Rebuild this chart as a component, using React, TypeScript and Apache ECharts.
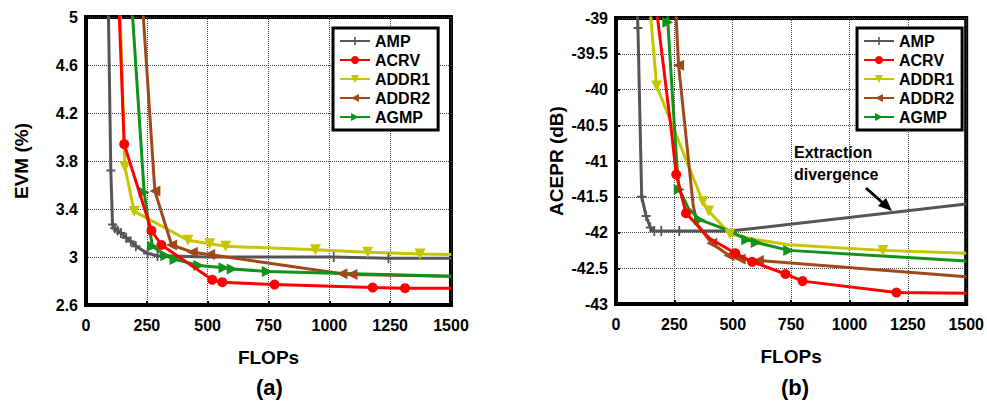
import React, { useEffect, useRef } from "react";
import * as echarts from "echarts";

// [FLOPs, value, hasMarker]
const SERIES_NAMES = ["AMP", "ACRV", "ADDR1", "ADDR2", "AGMP"];

const evmAMP = [[92, 5.05, 0], [102, 3.72, 1], [109, 3.27, 1], [118, 3.24, 1], [130, 3.22, 1], [143, 3.2, 1], [165, 3.16, 1], [184, 3.13, 1], [205, 3.09, 1], [253, 3.03, 1], [294, 3.01, 1], [500, 3.0, 0], [1018, 3.0, 1], [1243, 2.99, 1], [1500, 2.99, 0]];
const evmACRV = [[136, 5.05, 0], [157, 3.94, 1], [269, 3.22, 1], [310, 3.1, 1], [519, 2.81, 1], [560, 2.79, 1], [775, 2.77, 1], [1178, 2.745, 1], [1311, 2.74, 1], [1500, 2.74, 0]];
const evmADDR1 = [[140, 5.05, 0], [160, 3.75, 1], [198, 3.38, 1], [419, 3.14, 1], [508, 3.11, 1], [574, 3.09, 1], [943, 3.06, 1], [1158, 3.04, 1], [1373, 3.025, 1], [1500, 3.02, 0]];
const evmADDR2 = [[234, 5.05, 0], [283, 3.55, 1], [352, 3.1, 1], [437, 3.04, 1], [508, 3.02, 1], [1052, 2.86, 1], [1093, 2.855, 1], [1500, 2.84, 0]];
const evmAGMP = [[190, 5.05, 0], [239, 3.54, 1], [262, 3.22, 0], [273, 3.09, 1], [328, 3.01, 1], [366, 2.98, 1], [464, 2.93, 1], [567, 2.91, 1], [601, 2.9, 1], [745, 2.88, 1], [1500, 2.84, 0]];

const acpAMP = [[92, -38.95, 0], [94, -39.14, 1], [110, -41.5, 1], [129, -41.77, 1], [147, -41.93, 1], [164, -41.98, 1], [194, -41.98, 1], [271, -41.98, 1], [490, -41.98, 0], [1500, -41.6, 0]];
const acpACRV = [[176, -38.95, 0], [238, -40.6, 0], [258, -41.19, 1], [300, -41.73, 1], [400, -42.08, 0], [511, -42.29, 1], [583, -42.41, 1], [726, -42.58, 1], [799, -42.68, 1], [1201, -42.84, 1], [1500, -42.85, 0]];
const acpADDR1 = [[148, -38.95, 0], [174, -39.95, 1], [372, -41.57, 1], [397, -41.7, 1], [488, -42.02, 1], [600, -42.1, 0], [740, -42.17, 0], [1143, -42.25, 1], [1500, -42.29, 0]];
const acpADDR2 = [[257, -38.95, 0], [268, -39.66, 1], [331, -41.63, 0], [350, -41.9, 0], [410, -42.15, 1], [484, -42.32, 1], [532, -42.37, 1], [610, -42.39, 1], [1500, -42.62, 0]];
const acpAGMP = [[221, -38.95, 0], [222, -39.06, 1], [261, -41.07, 0], [271, -41.4, 1], [310, -41.66, 0], [358, -41.82, 1], [490, -41.98, 0], [560, -42.1, 1], [601, -42.14, 1], [740, -42.25, 1], [1500, -42.4, 0]];

const evmTicks = [2.6, 3, 3.4, 3.8, 4.2, 4.6, 5];
const acpTicks = [-43, -42.5, -42, -41.5, -41, -40.5, -40, -39.5, -39];
const flopTicks = [0, 250, 500, 750, 1000, 1250, 1500];

const COLORS = ["#555555", "#ff0000", "#c6c600", "#a0481a", "#12921a"];
const PLUS = "path://M4,0 L6,0 L6,10 L4,10 Z M0,4 L10,4 L10,6 L0,6 Z";
const SYMBOLS: any[] = [
  { symbol: PLUS, symbolSize: [9, 10], symbolRotate: 0 },
  { symbol: "circle", symbolSize: 10, symbolRotate: 0 },
  { symbol: "triangle", symbolSize: 11, symbolRotate: 180 },
  { symbol: "triangle", symbolSize: 11, symbolRotate: 90 },
  { symbol: "triangle", symbolSize: 11, symbolRotate: -90 },
];

const FONT = "'Liberation Sans', Arial, Helvetica, sans-serif";

function toData(arr: number[][]) {
  return arr.map(([x, y, m]) => (m ? { value: [x, y] } : { value: [x, y], symbol: "none" }));
}

function pickTick(list: number[]) {
  return (v: number) => {
    const t = list.find((k) => Math.abs(k - v) < 1e-6);
    return t === undefined ? "" : String(t);
  };
}

export default function App() {
  const ref = useRef<HTMLDivElement>(null);
  useEffect(() => {
    if (!ref.current) return;
    const chart = echarts.init(ref.current, null, { renderer: "svg" });
    const evmSets = [evmAMP, evmACRV, evmADDR1, evmADDR2, evmAGMP];
    const acpSets = [acpAMP, acpACRV, acpADDR1, acpADDR2, acpAGMP];

    const mkSeries = (sets: number[][][], idx: number) =>
      sets.map((s, i) => ({
        type: "line",
        name: SERIES_NAMES[i],
        xAxisIndex: idx,
        yAxisIndex: idx,
        data: toData(s),
        ...SYMBOLS[i],
        z: i === 1 ? 4 : 3,
        lineStyle: { color: COLORS[i], width: 3 },
        itemStyle: { color: COLORS[i] },
        clip: true,
      }));

    const axisLabel = { fontFamily: FONT, fontWeight: "bold", fontSize: 16, color: "#000" };
    const nameText = { fontFamily: FONT, fontWeight: "bold", fontSize: 19, color: "#000" };
    const axisLine = { show: true, lineStyle: { color: "#000", width: 4 } };
    const splitLine = { show: true, lineStyle: { color: "#444", type: "dotted", width: 1 } };

    const xAxis = (gi: number) => ({
      type: "value",
      gridIndex: gi,
      min: 0,
      max: 1500,
      interval: 250,
      name: "FLOPs",
      nameLocation: "middle",
      nameGap: 43,
      nameTextStyle: nameText,
      axisLine,
      axisTick: { show: true, inside: true, length: 4, lineStyle: { color: "#000", width: 2 } },
      axisLabel: { ...axisLabel, margin: 12, formatter: pickTick(flopTicks) },
      splitLine,
    });

    const legend = (left: number) => ({
      orient: "vertical",
      left,
      top: 28,
      data: SERIES_NAMES,
      itemWidth: 30,
      itemHeight: 10,
      itemGap: 1,
      padding: [4, 8, 4, 6],
      borderColor: "#000",
      borderWidth: 3,
      backgroundColor: "#fff",
      textStyle: { fontFamily: FONT, fontWeight: "bold", fontSize: 16, color: "#000", lineHeight: 18 },
      selectedMode: false,
    });

    chart.setOption({
      animation: false,
      backgroundColor: "#fff",
      grid: [
        { left: 86, top: 17, width: 365, height: 288, show: true, borderColor: "#000", borderWidth: 4, containLabel: false },
        { left: 616, top: 18, width: 357, height: 286, show: true, borderColor: "#000", borderWidth: 4, containLabel: false },
      ],
      xAxis: [xAxis(0), xAxis(1)],
      yAxis: [
        {
          type: "value",
          gridIndex: 0,
          min: 2.6,
          max: 5,
          interval: 0.2,
          name: "EVM (%)",
          nameLocation: "middle",
          nameGap: 55,
          nameTextStyle: nameText,
          axisLine,
          axisTick: { show: false },
          axisLabel: { ...axisLabel, margin: 8, formatter: pickTick(evmTicks) },
          splitLine: { show: true, lineStyle: { color: ["#444", "rgba(0,0,0,0)"], type: "dotted", width: 1 } },
        },
        {
          type: "value",
          gridIndex: 1,
          min: -43,
          max: -39,
          interval: 0.5,
          name: "ACEPR (dB)",
          nameLocation: "middle",
          nameGap: 50,
          nameTextStyle: nameText,
          axisLine,
          axisTick: { show: true, inside: true, length: 4, lineStyle: { color: "#000", width: 2 } },
          axisLabel: { ...axisLabel, margin: 8, formatter: pickTick(acpTicks) },
          splitLine,
        },
      ],
      legend: [legend(333), legend(857)],
      series: [...mkSeries(evmSets, 0), ...mkSeries(acpSets, 1)],
      graphic: [
        { type: "text", left: 256, top: 376, style: { text: "(a)", font: `bold 22px ${FONT}`, fill: "#000" } },
        { type: "text", left: 781, top: 376, style: { text: "(b)", font: `bold 22px ${FONT}`, fill: "#000" } },
        { type: "text", left: 794, top: 141, style: { text: "Extraction\ndivergence", font: `bold 16px ${FONT}`, fill: "#000", lineHeight: 22 } },
        { type: "line", shape: { x1: 866, y1: 188, x2: 884, y2: 204 }, style: { stroke: "#000", lineWidth: 3 } },
        { type: "polygon", shape: { points: [[892, 211], [878, 206], [886, 198]] }, style: { fill: "#000" } },
      ],
    });
    return () => chart.dispose();
  }, []);
  return <div ref={ref} style={{ position: "fixed", left: 0, top: 0, width: 987, height: 406 }} />;
}
